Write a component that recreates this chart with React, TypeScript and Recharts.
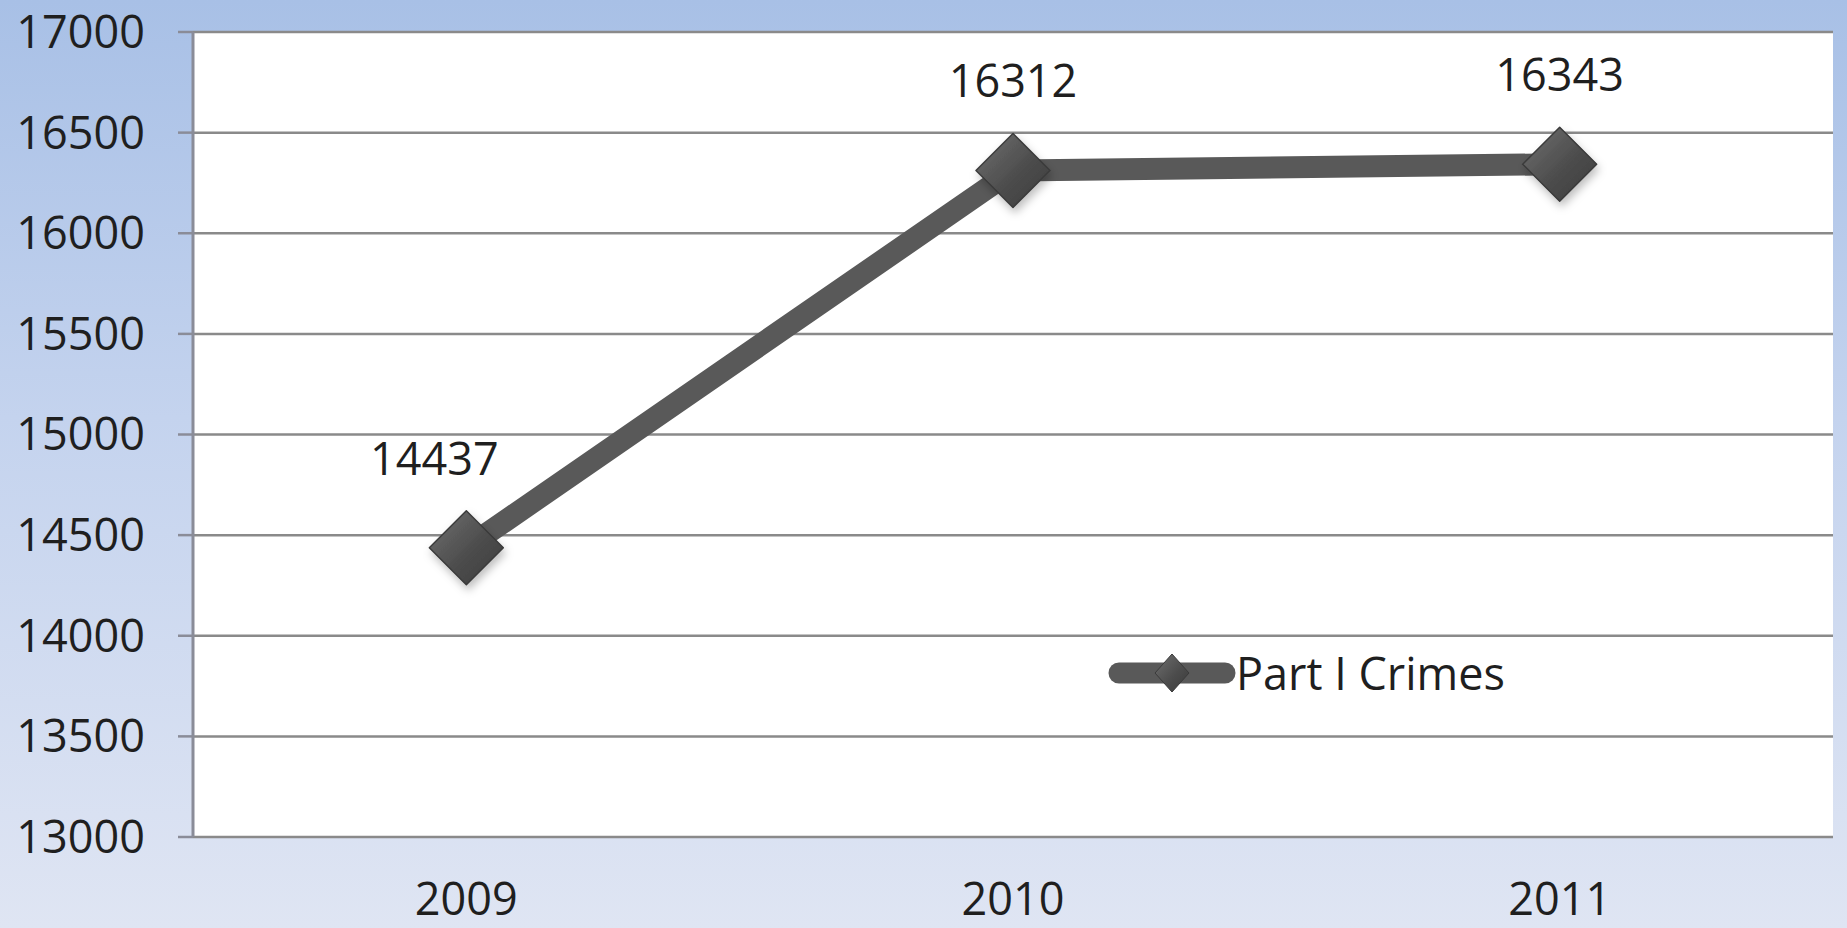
import React from "react";
import { LineChart, Line, XAxis, YAxis, CartesianGrid, Legend, LabelList } from "recharts";

const years = ["2009", "2010", "2011"];
const crimes = [14437, 16312, 16343];
const yTicks = [13000, 13500, 14000, 14500, 15000, 15500, 16000, 16500, 17000];
const seriesName = "Part I Crimes";

const data = years.map((year, i) => ({ year, crimes: crimes[i] }));
// boundaries between categories, for the Excel-style tick marks
const edges = years.map((_, i) => i).concat(years.length);

const font = "'Open Sans', 'DejaVu Sans', sans-serif";

const Diamond = (props: any) => {
  const { cx, cy, index } = props;
  if (cx == null || cy == null) return null;
  const r = 37;
  return (
    <polygon
      key={`d-${index}`}
      points={`${cx},${cy - r} ${cx + r},${cy} ${cx},${cy + r} ${cx - r},${cy}`}
      fill="url(#diaFill)"
      stroke="#3a3a3a"
      strokeWidth={1.5}
      strokeLinejoin="round"
      filter="url(#diaShadow)"
    />
  );
};

const renderLabel = (props: any) => {
  const { x, y, value, index } = props;
  const dx = index === 0 ? -32 : 0;
  return (
    <text
      x={x + dx}
      y={y - 73}
      textAnchor="middle"
      fontFamily={font}
      fontSize={45}
      fill="#1f1f1f"
    >
      {value}
    </text>
  );
};

const LegendBox = () => (
  <div style={{ display: "flex", alignItems: "center", fontFamily: font }}>
    <svg width={128} height={44}>
      <line x1={11} y1={22} x2={117} y2={22} stroke="#595959" strokeWidth={21} strokeLinecap="round" />
      <polygon points="64,3 81,22 64,41 47,22" fill="url(#diaFill)" stroke="#3a3a3a" strokeWidth={1} />
    </svg>
    <span style={{ fontSize: 45, lineHeight: 1, color: "#1f1f1f" }}>{seriesName}</span>
  </div>
);

export default function App() {
  return (
    <div
      style={{
        position: "absolute",
        left: 0,
        top: 0,
        width: 1847,
        height: 928,
        background: "linear-gradient(to bottom, #a8c0e6 0%, #c4d3ee 45%, #dfe5f3 100%)",
      }}
    >
      <LineChart width={1847} height={928} data={data} margin={{ top: 32, right: 14, left: 0, bottom: 0 }}>
        <defs>
          <linearGradient id="diaFill" x1="0" y1="0" x2="1" y2="1">
            <stop offset="0%" stopColor="#707070" />
            <stop offset="55%" stopColor="#4d4d4d" />
            <stop offset="100%" stopColor="#3a3a3a" />
          </linearGradient>
          <filter id="diaShadow" x="-50%" y="-50%" width="200%" height="200%">
            <feDropShadow dx="2" dy="5" stdDeviation="4" floodColor="#000" floodOpacity="0.25" />
          </filter>
        </defs>
        <CartesianGrid vertical={false} stroke="#8a8a8a" strokeWidth={2.5} fill="#ffffff" />
        <XAxis
          xAxisId="frame"
          type="number"
          domain={[0, years.length]}
          ticks={edges}
          allowDataOverflow
          height={0}
          tick={false}
          tickSize={18}
          stroke="#8a8c98"
          strokeWidth={3}
        />
        <XAxis
          xAxisId="cat"
          dataKey="year"
          scale="band"
          height={91}
          axisLine={false}
          tickLine={false}
          tickSize={0}
          tickMargin={46}
          tick={{ fontFamily: font, fontSize: 45, fill: "#1f1f1f" }}
        />
        <YAxis
          domain={[13000, 17000]}
          ticks={yTicks}
          width={193}
          interval={0}
          tickSize={15}
          tickMargin={33}
          axisLine={{ stroke: "#8a8c98", strokeWidth: 3 }}
          tickLine={{ stroke: "#8a8c98", strokeWidth: 2.5 }}
          tick={{ fontFamily: font, fontSize: 45, fill: "#1f1f1f" }}
        />
        <Legend
          layout="horizontal"
          verticalAlign="middle"
          align="center"
          content={<LegendBox />}
          wrapperStyle={{ left: 1108, top: 650, width: "auto" }}
        />
        <Line
          xAxisId="cat"
          dataKey="crimes"
          name={seriesName}
          stroke="#595959"
          strokeWidth={22}
          strokeLinejoin="round"
          dot={Diamond}
          activeDot={false}
          isAnimationActive={false}
        >
          <LabelList dataKey="crimes" content={renderLabel} />
        </Line>
      </LineChart>
    </div>
  );
}
